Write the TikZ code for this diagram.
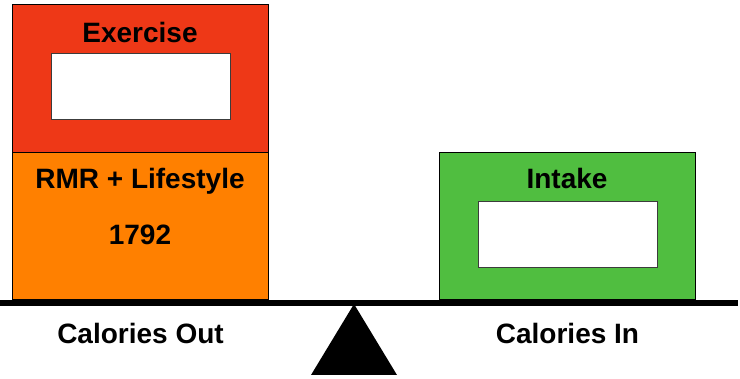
\documentclass[tikz,border=0pt]{standalone}
\usepackage{fontspec}
\setmainfont{Liberation Sans}
\definecolor{exred}{RGB}{238,56,23}
\definecolor{rmrorange}{RGB}{255,128,0}
\definecolor{ingreen}{RGB}{80,190,64}
\definecolor{innerline}{RGB}{60,60,60}
\begin{document}
\begin{tikzpicture}[x=1pt,y=-1pt,
  block/.style={draw=black, line width=1pt, inner sep=0pt, outer sep=0pt, minimum width=256pt},
  slot/.style={draw=innerline, fill=white, line width=1pt, inner sep=0pt, outer sep=0pt, minimum width=179pt, minimum height=66pt},
  lbl/.style={anchor=base, inner sep=0pt, font=\fontsize{28}{34}\selectfont\bfseries}
]
\useasboundingbox (0,0) rectangle (740,379);
% blocks
\node[block, fill=exred, minimum height=148pt] (ex) at (140,79) {};
\node[block, fill=rmrorange, minimum height=147pt] (rmr) at (140,226.5) {};
\node[block, fill=ingreen, minimum height=147pt] (in) at (567,226.5) {};
% white slots
\node[slot] (exslot) at (140.5,87) {};
\node[slot] (inslot) at (567.5,235) {};
% labels
\node[lbl] (extxt) at (140,42.3) {Exercise};
\node[lbl] (rmrtxt) at (140,189) {RMR + Lifestyle};
\node[lbl] (num) at (140,245) {1792};
\node[lbl] (intxt) at (567,189) {Intake};
\node[lbl] (out) at (140.5,343.3) {Calories Out};
\node[lbl] (cin) at (567.5,343.3) {Calories In};
% beam and fulcrum
\coordinate (bl) at (0,303);
\coordinate (br) at (738,303);
\draw[line width=6pt] (bl) -- (br);
\coordinate (apex) at (354,304);
\coordinate (baseR) at (397,375);
\coordinate (baseL) at (311,375);
\fill[black] (apex) -- (baseR) -- (baseL) -- cycle;
\end{tikzpicture}
\end{document}
